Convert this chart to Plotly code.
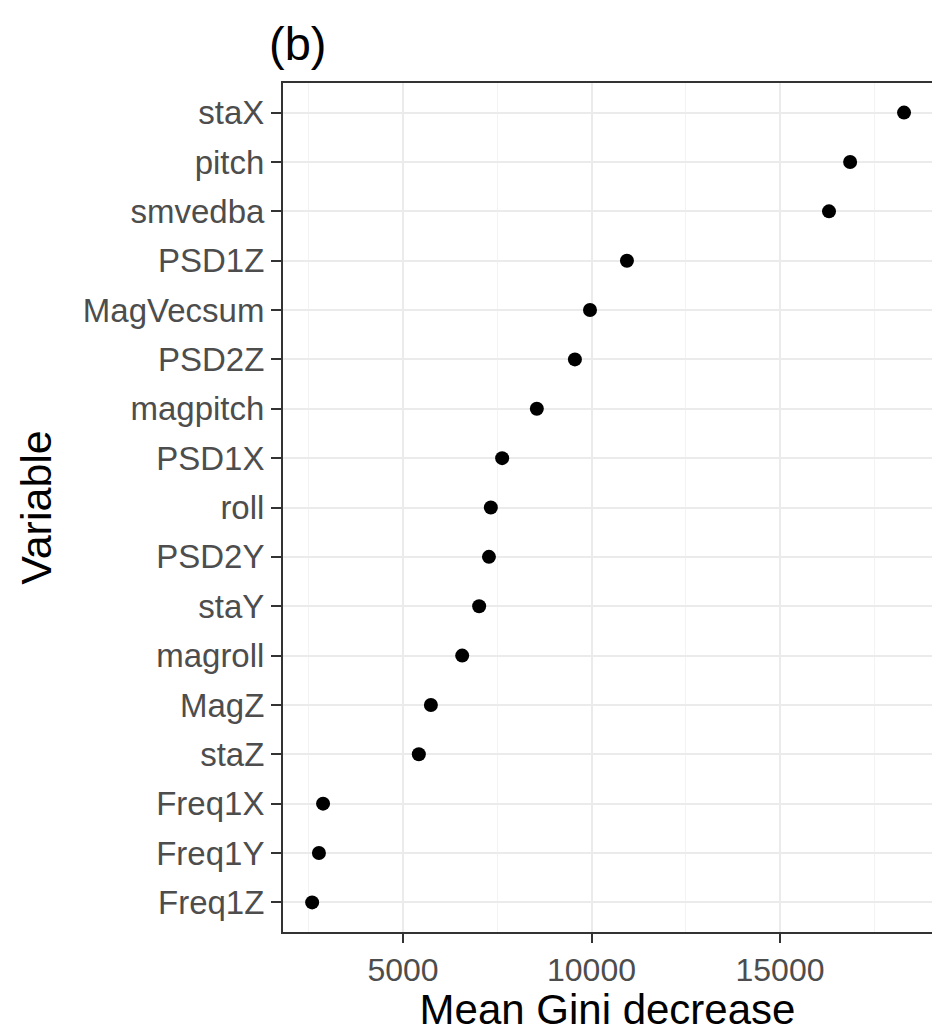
import plotly.graph_objects as go

variables = ["staX", "pitch", "smvedba", "PSD1Z", "MagVecsum", "PSD2Z", "magpitch",
             "PSD1X", "roll", "PSD2Y", "staY", "magroll", "MagZ", "staZ",
             "Freq1X", "Freq1Y", "Freq1Z"]
gini = [18290, 16860, 16300, 10940, 9960, 9560, 8550,
        7630, 7330, 7280, 7020, 6570, 5740, 5420,
        2880, 2770, 2590]

x_ticks = [5000, 10000, 15000]

FONT = "Liberation Sans, Arial, sans-serif"

# page body has an 8px default margin; size the figure so it fits the window
W, H = 932, 1025

fig = go.Figure()
fig.add_trace(go.Scatter(
    x=gini, y=variables, mode="markers",
    marker=dict(color="black", size=14),
    showlegend=False,
))

order_bottom_to_top = variables[::-1]

fig.update_layout(
    width=W, height=H,
    margin=dict(l=275, r=8, t=75, b=101, autoexpand=False),
    plot_bgcolor="white", paper_bgcolor="white",
    font=dict(family=FONT, color="black"),
    title=dict(text="(b)", font=dict(size=47, color="black", family=FONT),
               xref="container", x=(269 - 8) / W, xanchor="left",
               yref="container", y=1 - (44 - 8) / H, yanchor="middle"),
)

fig.update_xaxes(
    range=[1817, 19032],
    tickvals=x_ticks, ticktext=[str(v) for v in x_ticks],
    tickfont=dict(size=32, color="#4D4D4D", family=FONT),
    ticks="outside", ticklen=9, tickwidth=2, tickcolor="#333333",
    showline=True, linecolor="#333333", linewidth=2, mirror=True,
    showgrid=True, gridcolor="#EBEBEB", gridwidth=1.6,
    minor=dict(tickvals=[2500, 7500, 12500, 17500], showgrid=True,
               gridcolor="#F3F3F3", gridwidth=1),
    zeroline=False,
    title=dict(text="Mean Gini decrease", font=dict(size=42, color="black", family=FONT),
               standoff=23),
    automargin=False,
)

fig.update_yaxes(
    type="category", categoryorder="array", categoryarray=order_bottom_to_top,
    range=[-0.6, len(variables) - 0.4],
    tickfont=dict(size=33, color="#4D4D4D", family=FONT),
    ticks="outside", ticklen=10, tickwidth=2, tickcolor="#333333",
    showline=True, linecolor="#333333", linewidth=2, mirror=True,
    showgrid=True, gridcolor="#EBEBEB", gridwidth=1.6,
    zeroline=False,
    title=dict(text="Variable", font=dict(size=43, color="black", family=FONT),
               standoff=18),
    automargin=False,
)

fig.write_html("out.html")
